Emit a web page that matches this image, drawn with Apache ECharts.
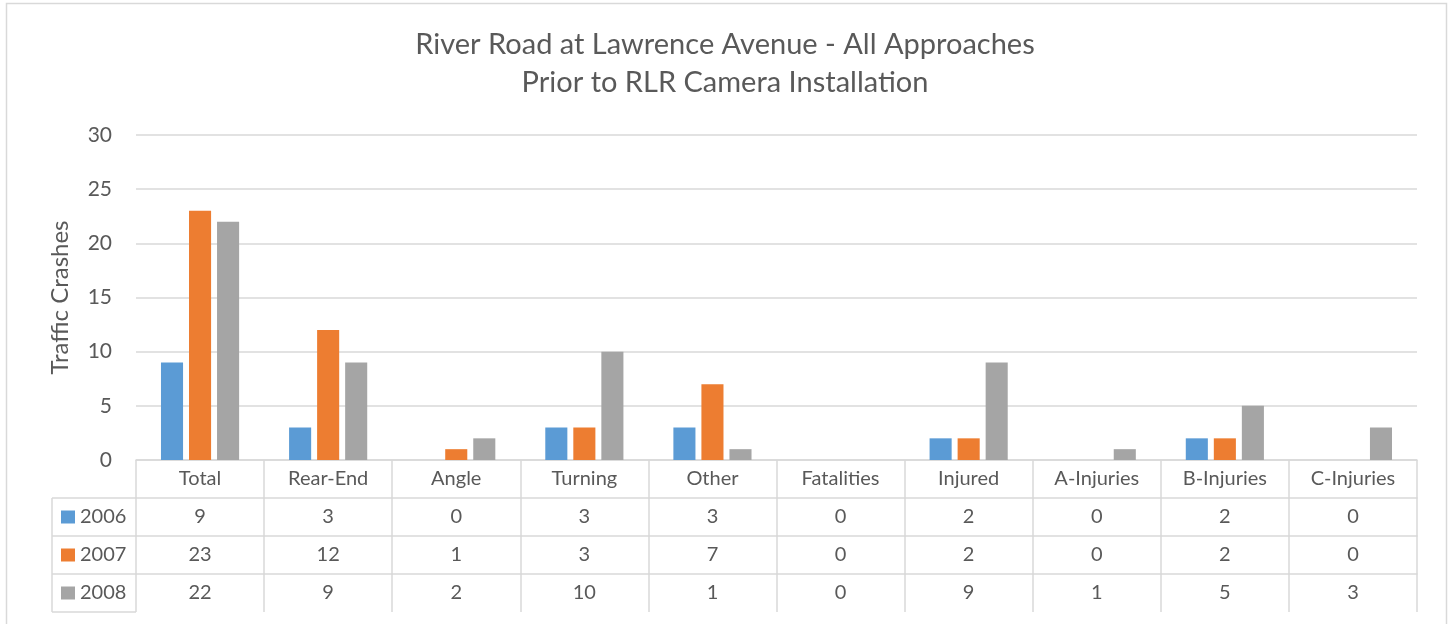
<!DOCTYPE html>
<html>
<head>
<meta charset="utf-8">
<style>
  html, body { margin: 0; padding: 0; background: #fff; }
  #chart { width: 1450px; height: 624px; }
</style>
<script src="https://cdn.jsdelivr.net/npm/echarts@6/dist/echarts.min.js"></script>
</head>
<body>
<div id="chart"></div>
<script>
// 数据部分
var categories = ['Total', 'Rear-End', 'Angle', 'Turning', 'Other', 'Fatalities', 'Injured', 'A-Injuries', 'B-Injuries', 'C-Injuries'];
var years = ['2006', '2007', '2008'];
var v2006 = [9, 3, 0, 3, 3, 0, 2, 0, 2, 0];
var v2007 = [23, 12, 1, 3, 7, 0, 2, 0, 2, 0];
var v2008 = [22, 9, 2, 10, 1, 0, 9, 1, 5, 3];
var yTicks = [0, 5, 10, 15, 20, 25, 30];

var colors = ['#5B9BD5', '#ED7D31', '#A5A5A5'];
var textColor = '#595959';
var lineColor = '#D9D9D9';
var font = 'Lato';

// 图表区域
var gridLeft = 136, gridRight = 33, gridTop = 135, gridBottom = 164;
var rowH = 38;
var tableLeft = 52;
var axisBottomY = 624 - gridBottom;

// 数据表的每一行用一个 x 轴表示
function rowAxis(vals, idx) {
    return {
        type: 'category',
        gridIndex: 0,
        position: 'bottom',
        offset: rowH * (idx + 1),
        data: categories,
        axisLine: { show: true, lineStyle: { color: lineColor, width: 1.5 } },
        axisTick: { show: false },
        axisLabel: {
            interval: 0,
            margin: 9,
            color: textColor,
            fontFamily: font,
            fontSize: 20,
            formatter: function (v, i) { return String(vals[i]); }
        },
        splitLine: { show: false }
    };
}

// 左边图例一栏的表格线
var tableLines = [];
for (var r = 1; r <= 4; r++) {
    tableLines.push({
        type: 'line',
        shape: { x1: tableLeft, y1: axisBottomY + rowH * r, x2: gridLeft, y2: axisBottomY + rowH * r },
        style: { stroke: lineColor, lineWidth: 1.5 }
    });
}
tableLines.push({
    type: 'line',
    shape: { x1: tableLeft, y1: axisBottomY + rowH, x2: tableLeft, y2: axisBottomY + rowH * 4 },
    style: { stroke: lineColor, lineWidth: 1.5 }
});
// 外框
tableLines.push({
    type: 'rect',
    shape: { x: 6.5, y: 3.5, width: 1440, height: 640 },
    style: { fill: null, stroke: lineColor, lineWidth: 1.5 },
    z: -1
});

var chart = echarts.init(document.getElementById('chart'));
var option = {
    animation: false,
    color: colors,
    textStyle: { fontFamily: font },
    title: {
        text: 'River Road at Lawrence Avenue - All Approaches\nPrior to RLR Camera Installation',
        left: 'center',
        top: 21,
        textStyle: {
            color: textColor,
            fontFamily: font,
            fontWeight: 'normal',
            fontSize: 29,
            lineHeight: 38
        }
    },
    legend: {
        data: years,
        orient: 'vertical',
        left: 61,
        top: axisBottomY + rowH,
        padding: 0,
        itemGap: 0,
        itemWidth: 14,
        itemHeight: 13,
        icon: 'rect',
        textStyle: { color: textColor, fontFamily: font, fontSize: 20, lineHeight: rowH }
    },
    grid: { left: gridLeft, right: gridRight, top: gridTop, bottom: gridBottom, containLabel: false },
    xAxis: [
        {
            type: 'category',
            data: categories,
            axisLine: { show: true, lineStyle: { color: lineColor, width: 1.5 } },
            axisTick: { show: true, length: rowH * 4, lineStyle: { color: lineColor, width: 1.5 } },
            axisLabel: { interval: 0, margin: 9, color: textColor, fontFamily: font, fontSize: 20 }
        },
        rowAxis(v2006, 0),
        rowAxis(v2007, 1),
        rowAxis(v2008, 2)
    ],
    yAxis: {
        type: 'value',
        min: yTicks[0],
        max: yTicks[yTicks.length - 1],
        interval: yTicks[1] - yTicks[0],
        name: 'Traffic Crashes',
        nameLocation: 'middle',
        nameGap: 64,
        nameTextStyle: { color: textColor, fontFamily: font, fontSize: 24 },
        axisLine: { show: false },
        axisTick: { show: false },
        axisLabel: { color: textColor, fontFamily: font, fontSize: 21, margin: 24 },
        splitLine: { lineStyle: { color: lineColor, width: 1.5 } }
    },
    series: [
        { name: years[0], type: 'bar', data: v2006, barGap: '27%', barCategoryGap: '39%' },
        { name: years[1], type: 'bar', data: v2007, barGap: '27%', barCategoryGap: '39%' },
        { name: years[2], type: 'bar', data: v2008, barGap: '27%', barCategoryGap: '39%' }
    ],
    graphic: tableLines
};
chart.setOption(option);
</script>
</body>
</html>
